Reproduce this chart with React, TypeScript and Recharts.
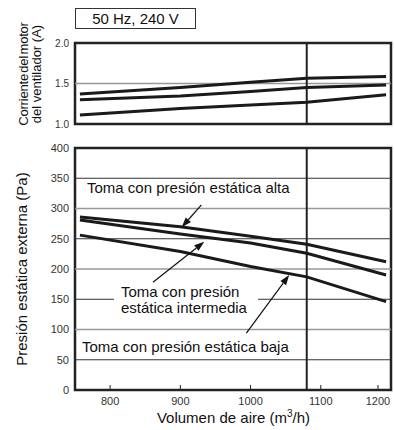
import { Line, LineChart, ReferenceArea, ReferenceLine, XAxis, YAxis } from "recharts"

const FONT = "'Liberation Sans', Arial, sans-serif"

// airflow points (m3/h) shared by both panels
const airflow = [757, 900, 1000, 1080, 1193]

// fan motor current (A)
const currentHigh = [1.37, 1.45, 1.515, 1.565, 1.585]
const currentMid = [1.3, 1.345, 1.4, 1.45, 1.48]
const currentLow = [1.11, 1.19, 1.235, 1.27, 1.36]

// external static pressure (Pa)
const pressureHigh = [286, 270, 254, 241, 212]
const pressureMid = [281, 258, 243, 226, 190]
const pressureLow = [256, 229, 204, 187, 146]

const xTicks = [800, 900, 1000, 1100, 1200]
const currentTicks = [1.0, 1.5, 2.0]
const pressureTicks = [0, 50, 100, 150, 200, 250, 300, 350, 400]
const gridGray = [100, 200, 300]
const gridDark = [50, 150, 250, 350]
const ratedAirflow = 1080

// annotation arrows: [tail, head] in data units
const arrows = [
  [{ x: 930, y: 306 }, { x: 902, y: 269 }],
  [{ x: 861, y: 178 }, { x: 934, y: 245 }],
  [{ x: 994, y: 94 }, { x: 1055, y: 190 }],
]

const currentData = airflow.map((x, i) => ({
  x,
  high: currentHigh[i],
  mid: currentMid[i],
  low: currentLow[i],
}))

const pressureData = airflow.map((x, i) => ({
  x,
  high: pressureHigh[i],
  mid: pressureMid[i],
  low: pressureLow[i],
}))

const Arrow = (props: any) => {
  const { x1, y1, x2, y2 } = props
  const a = Math.atan2(y2 - y1, x2 - x1)
  const len = 10
  const w = 3.5
  const bx = x2 - len * Math.cos(a)
  const by = y2 - len * Math.sin(a)
  const p1 = `${bx + w * Math.sin(a)},${by - w * Math.cos(a)}`
  const p2 = `${bx - w * Math.sin(a)},${by + w * Math.cos(a)}`
  return (
    <g>
      <line x1={x1} y1={y1} x2={bx} y2={by} stroke="#111" strokeWidth={1.2} />
      <polygon points={`${x2},${y2} ${p1} ${p2}`} fill="#111" />
    </g>
  )
}

const XTick = (props: any) => {
  const { x, y, payload } = props
  return (
    <g>
      <line x1={x} y1={y - 5} x2={x} y2={y} stroke="#222" strokeWidth={1} />
      <text x={x} y={y + 15} textAnchor="middle" fontSize={11} fill="#333" fontFamily={FONT}>
        {payload.value}
      </text>
    </g>
  )
}

const lineStyle = { stroke: "#1a1a1a", strokeWidth: 3, dot: false, isAnimationActive: false }

export default function App() {
  return (
    <div style={{ position: "absolute", left: 0, top: 0, width: 394, height: 430, background: "#fff", fontFamily: FONT, color: "#111" }}>
      <div
        style={{
          position: "absolute", left: 75, top: 8, width: 119, height: 19,
          border: "1px solid #333", fontSize: 15, lineHeight: "19px", textAlign: "center",
        }}
      >
        50 Hz, 240 V
      </div>

      <div
        style={{
          position: "absolute", left: 29.5, top: 74, width: 130, fontSize: 13, lineHeight: "13px",
          textAlign: "center", transform: "translate(-50%, -50%) rotate(-90deg)", whiteSpace: "nowrap",
        }}
      >
        <span style={{ letterSpacing: -0.2, wordSpacing: -2 }}>Corriente del motor</span>
        <br />
        del ventilador (A)
      </div>

      <div style={{ position: "absolute", left: 0, top: 0 }}>
        <LineChart width={394} height={135} data={currentData} margin={{ top: 43, right: 3, bottom: 11, left: 45 }}>
          <XAxis type="number" dataKey="x" domain={[750, 1200]} hide />
          <YAxis
            type="number"
            domain={[1, 2]}
            ticks={currentTicks}
            width={30}
            tickLine={false}
            axisLine={false}
            tickSize={0}
            tickMargin={6}
            tickFormatter={(v: number) => v.toFixed(1)}
            tick={{ fontSize: 10, fill: "#333", fontFamily: FONT }}
          />
          <ReferenceLine y={1.5} stroke="#999" strokeWidth={1.5} />
          <ReferenceLine x={ratedAirflow} stroke="#222" strokeWidth={2} />
          <Line dataKey="high" {...lineStyle} />
          <Line dataKey="mid" {...lineStyle} />
          <Line dataKey="low" {...lineStyle} />
          <ReferenceArea x1={750} x2={1200} y1={1} y2={2} fill="none" stroke="#222" strokeWidth={2.5} />
        </LineChart>
      </div>

      <div
        style={{
          position: "absolute", left: 20.5, top: 269, width: 240, fontSize: 15, textAlign: "center",
          transform: "translate(-50%, -50%) rotate(-90deg)", whiteSpace: "nowrap",
        }}
      >
        Presión estática externa (Pa)
      </div>

      <div style={{ position: "absolute", left: 0, top: 130 }}>
        <LineChart width={394} height={300} data={pressureData} margin={{ top: 18, right: 3, bottom: 20, left: 45 }}>
          <XAxis
            type="number"
            dataKey="x"
            domain={[750, 1200]}
            ticks={xTicks}
            height={20}
            axisLine={false}
            tickLine={false}
            tickSize={0}
            tickMargin={0}
            tick={<XTick />}
          />
          <YAxis
            type="number"
            domain={[0, 400]}
            ticks={pressureTicks}
            width={30}
            tickLine={false}
            axisLine={false}
            tickSize={0}
            tickMargin={6}
            tick={{ fontSize: 11, fill: "#333", fontFamily: FONT }}
          />
          {gridGray.map((v) => (
            <ReferenceLine key={`g${v}`} y={v} stroke="#999" strokeWidth={1.5} />
          ))}
          {gridDark.map((v) => (
            <ReferenceLine key={`d${v}`} y={v} stroke="#333" strokeWidth={1} />
          ))}
          <ReferenceLine x={ratedAirflow} stroke="#222" strokeWidth={2} />
          <Line dataKey="high" {...lineStyle} />
          <Line dataKey="mid" {...lineStyle} />
          <Line dataKey="low" {...lineStyle} />
          {arrows.map((seg, i) => (
            <ReferenceLine key={`a${i}`} segment={seg} shape={Arrow} />
          ))}
          <ReferenceArea x1={750} x2={1200} y1={0} y2={400} fill="none" stroke="#222" strokeWidth={2.5} />
        </LineChart>

        <div style={{ position: "absolute", left: 87, top: 49, fontSize: 15, lineHeight: "17px", whiteSpace: "nowrap", background: "#fff" }}>
          Toma con presión estática alta
        </div>
        <div
          style={{
            position: "absolute", left: 114, top: 154, width: 144, paddingLeft: 7, boxSizing: "border-box",
            fontSize: 15, lineHeight: "16px", background: "#fff", whiteSpace: "nowrap",
          }}
        >
          Toma con presión
          <br />
          estática intermedia
        </div>
        <div style={{ position: "absolute", left: 82, top: 208, fontSize: 15, lineHeight: "17px", whiteSpace: "nowrap", background: "#fff" }}>
          Toma con presión estática baja
        </div>

        <div
          style={{
            position: "absolute", left: 75, width: 317, top: 279, fontSize: 15, lineHeight: "17px",
            textAlign: "center", whiteSpace: "nowrap",
          }}
        >
          Volumen de aire (m<sup style={{ fontSize: 10, lineHeight: 0 }}>3</sup>/h)
        </div>
      </div>
    </div>
  )
}
